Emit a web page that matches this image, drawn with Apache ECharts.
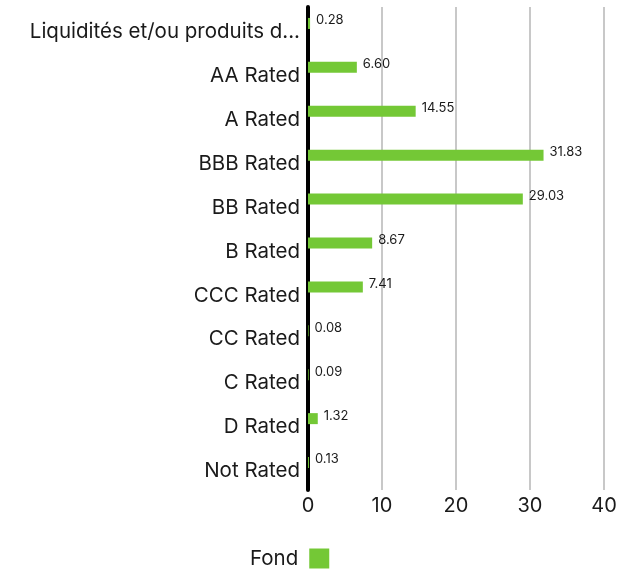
<!DOCTYPE html>
<html>
<head>
<meta charset="utf-8">
<script src="https://cdn.jsdelivr.net/npm/echarts@6/dist/echarts.min.js"></script>
<style>
  html, body { margin: 0; padding: 0; background: #fff; }
  #chart { width: 632px; height: 569px; }
</style>
</head>
<body>
<div id="chart"></div>
<script>
// Credit rating breakdown of the fund (% of assets)
const categories = [
  'Liquidités et/ou produits dérivés',
  'AA Rated',
  'A Rated',
  'BBB Rated',
  'BB Rated',
  'B Rated',
  'CCC Rated',
  'CC Rated',
  'C Rated',
  'D Rated',
  'Not Rated'
];
const fundValues = [0.28, 6.60, 14.55, 31.83, 29.03, 8.67, 7.41, 0.08, 0.09, 1.32, 0.13];
const xTicks = [0, 10, 20, 30, 40];

const FONT = 'Inter, "Open Sans", sans-serif';
const GREEN = '#74c836';
const INK = '#1a1a1a';

const chart = echarts.init(document.getElementById('chart'), null, { renderer: 'canvas' });

chart.setOption({
  animation: false,
  grid: { left: 308, right: 28, top: 7, bottom: 79, containLabel: false },
  legend: {
    data: ['Fond'],
    bottom: -5,
    left: 245,
    align: 'right',
    itemWidth: 20,
    itemHeight: 20,
    icon: 'rect',
    textStyle: { fontFamily: FONT, fontSize: 20.5, color: INK, padding: [0, 6, 0, 0] }
  },
  xAxis: {
    type: 'value',
    min: xTicks[0],
    max: xTicks[xTicks.length - 1],
    interval: 10,
    axisLine: { show: false },
    axisTick: { show: false },
    splitLine: { show: true, lineStyle: { color: '#c8c8c8', width: 2 } },
    axisLabel: { margin: 6, fontFamily: FONT, fontSize: 20, color: INK }
  },
  yAxis: {
    type: 'category',
    data: categories,
    inverse: true,
    axisLine: { show: true, lineStyle: { color: '#000', width: 4 } },
    axisTick: { show: false },
    axisLabel: {
      margin: 8,
      width: 281,
      overflow: 'truncate',
      ellipsis: '...',
      formatter: v => '{c|' + v + '}',
      rich: {
        c: {
          padding: [6, 0, 0, 0],
          fontFamily: FONT,
          fontSize: 20.5,
          color: INK
        }
      },
      fontFamily: FONT,
      fontSize: 20.5,
      color: INK
    }
  },
  series: [
    {
      name: 'Fond',
      type: 'bar',
      data: fundValues,
      barWidth: 11,
      barGap: '0%',
      itemStyle: { color: GREEN },
      label: {
        show: true,
        position: 'right',
        distance: 6,
        offset: [0, -3],
        fontFamily: FONT,
        fontSize: 13,
        color: INK,
        formatter: p => p.value.toFixed(2)
      }
    },
    {
      name: 'spacer',
      type: 'bar',
      data: categories.map(() => '-'),
      barWidth: 11,
      itemStyle: { color: 'transparent' }
    }
  ]
});
</script>
</body>
</html>
